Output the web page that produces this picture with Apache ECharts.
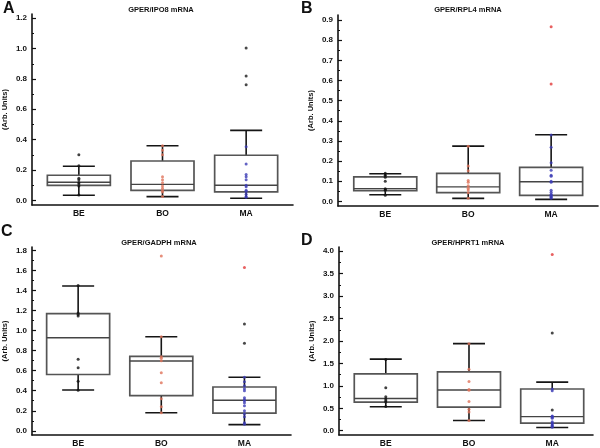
<!DOCTYPE html>
<html>
<head>
<meta charset="utf-8">
<script src="https://cdn.jsdelivr.net/npm/echarts@6/dist/echarts.min.js"></script>
<style>html,body{margin:0;padding:0;background:#fff;}#c{width:600px;height:448px;}</style>
</head>
<body>
<div id="c"></div>
<script>
// ---------- data ----------
const categories = ['BE', 'BO', 'MA'];
const titles = ['GPER/IPO8 mRNA', 'GPER/RPL4 mRNA', 'GPER/GADPH mRNA', 'GPER/HPRT1 mRNA'];
const letters = ['A', 'B', 'C', 'D'];

// stats per group: [min, Q1, median, Q3, max]
const A_stats = [[0.033, 0.099, 0.119, 0.165, 0.224], [0.024, 0.066, 0.105, 0.259, 0.360], [0.013, 0.055, 0.099, 0.297, 0.461]];
const B_stats = [[0.033, 0.053, 0.063, 0.122, 0.137], [0.015, 0.043, 0.072, 0.139, 0.274], [0.010, 0.030, 0.097, 0.169, 0.331]];
const C_stats = [[0.407, 0.562, 0.929, 1.169, 1.445], [0.180, 0.352, 0.697, 0.742, 0.939], [0.062, 0.177, 0.305, 0.437, 0.535]];
const D_stats = [[0.535, 0.637, 0.718, 1.268, 1.597], [0.227, 0.528, 0.908, 1.312, 1.941], [0.073, 0.169, 0.315, 0.930, 1.084]];

// individual points
const A_BE = [0.30, 0.228, 0.145, 0.135, 0.118, 0.108, 0.095, 0.035];
const A_BO = [0.36, 0.33, 0.30, 0.155, 0.135, 0.115, 0.095, 0.08, 0.065, 0.055, 0.025];
const A_MA = [0.353, 0.24, 0.17, 0.155, 0.135, 0.10, 0.09, 0.066, 0.058, 0.04, 0.025, 0.02];
const A_MA_dark = [1.004, 0.82, 0.762];
const A_MA_red = [];

const B_BE = [0.14, 0.13, 0.12, 0.10, 0.062, 0.058, 0.055, 0.03];
const B_BO = [0.274, 0.175, 0.152, 0.103, 0.095, 0.078, 0.065, 0.057, 0.043, 0.015];
const B_MA = [0.33, 0.268, 0.192, 0.155, 0.13, 0.125, 0.10, 0.095, 0.055, 0.045, 0.035, 0.03, 0.025, 0.02, 0.015];
const B_MA_dark = [];
const B_MA_red = [0.867, 0.582];

const C_BE = [1.45, 1.175, 1.16, 1.145, 0.715, 0.63, 0.495, 0.405];
const C_BO = [1.745, 0.94, 0.74, 0.725, 0.70, 0.58, 0.48, 0.32, 0.24, 0.18];
const C_MA = [0.535, 0.49, 0.45, 0.42, 0.40, 0.33, 0.31, 0.30, 0.28, 0.25, 0.20, 0.17, 0.14, 0.08, 0.065];
const C_MA_dark = [1.067, 0.874];
const C_MA_red = [1.63];

const D_BE = [1.59, 0.96, 0.76, 0.71, 0.67, 0.64, 0.54];
const D_BO = [1.94, 1.37, 1.10, 0.92, 0.90, 0.65, 0.48, 0.42, 0.23];
const D_MA = [0.93, 0.89, 0.33, 0.32, 0.30, 0.28, 0.20, 0.17, 0.15, 0.12, 0.10, 0.08];
const D_MA_dark = [2.18, 0.46];
const D_MA_red = [3.93];

// tick labels
const A_ticks = [0, 0.2, 0.4, 0.6, 0.8, 1.0, 1.2];
const A_minor = [0.1, 0.3, 0.5, 0.7, 0.9, 1.1];
const B_ticks = [0, 0.1, 0.2, 0.3, 0.4, 0.5, 0.6, 0.7, 0.8, 0.9];
const B_minor = [0.05, 0.15, 0.25, 0.35, 0.45, 0.55, 0.65, 0.75, 0.85];
const C_ticks = [0, 0.2, 0.4, 0.6, 0.8, 1.0, 1.2, 1.4, 1.6, 1.8];
const C_minor = [0.1, 0.3, 0.5, 0.7, 0.9, 1.1, 1.3, 1.5, 1.7];
const D_ticks = [0, 0.5, 1.0, 1.5, 2.0, 2.5, 3.0, 3.5, 4.0];
const D_minor = [0.25, 0.75, 1.25, 1.75, 2.25, 2.75, 3.25, 3.75];

// ---------- layout ----------
const panels = [
  {stats: A_stats, pts: [A_BE, A_BO, A_MA], dark: A_MA_dark, red: A_MA_red, ticks: A_ticks, minor: A_minor,
   grid: {left: 32, top: 14, width: 261, height: 191}, y: [-0.031, 1.228], x: [0.44, 3.56],
   title: [161, 10], letter: [3, 9]},
  {stats: B_stats, pts: [B_BE, B_BO, B_MA], dark: B_MA_dark, red: B_MA_red, ticks: B_ticks, minor: B_minor,
   grid: {left: 338, top: 15, width: 260, height: 191}, y: [-0.023, 0.925], x: [0.43, 3.565],
   title: [468, 10], letter: [301, 9]},
  {stats: C_stats, pts: [C_BE, C_BO, C_MA], dark: C_MA_dark, red: C_MA_red, ticks: C_ticks, minor: C_minor,
   grid: {left: 31, top: 247, width: 260, height: 190}, y: [-0.042, 1.835], x: [0.445, 3.56],
   title: [159, 243], letter: [1, 232]},
  {stats: D_stats, pts: [D_BE, D_BO, D_MA], dark: D_MA_dark, red: D_MA_red, ticks: D_ticks, minor: D_minor,
   grid: {left: 339, top: 247, width: 254, height: 190}, y: [-0.095, 4.095], x: [0.438, 3.49],
   title: [468, 243], letter: [301, 241]}
];

const groupColors = ['#111111', '#e0735a', '#3b3bb5'];
const FONT = '"Liberation Sans", Arial, sans-serif';

function renderBox(params, api) {
  const x = api.value(0);
  const pMin = api.coord([x, api.value(1)]);
  const pQ1 = api.coord([x, api.value(2)]);
  const pMed = api.coord([x, api.value(3)]);
  const pQ3 = api.coord([x, api.value(4)]);
  const pMax = api.coord([x, api.value(5)]);
  const cx = pMed[0];
  const hw = 31.5, cw = 16;
  const wStyle = {stroke: '#151515', lineWidth: 1.6};
  return {
    type: 'group',
    children: [
      {type: 'line', shape: {x1: cx, y1: pQ3[1], x2: cx, y2: pMax[1]}, style: wStyle},
      {type: 'line', shape: {x1: cx, y1: pQ1[1], x2: cx, y2: pMin[1]}, style: wStyle},
      {type: 'line', shape: {x1: cx - cw, y1: pMax[1], x2: cx + cw, y2: pMax[1]}, style: wStyle},
      {type: 'line', shape: {x1: cx - cw, y1: pMin[1], x2: cx + cw, y2: pMin[1]}, style: wStyle},
      {type: 'rect', shape: {x: cx - hw, y: pQ3[1], width: 2 * hw, height: pQ1[1] - pQ3[1]},
       style: {fill: 'none', stroke: '#555555', lineWidth: 1.7}},
      {type: 'line', shape: {x1: cx - hw, y1: pMed[1], x2: cx + hw, y2: pMed[1]},
       style: {stroke: '#444444', lineWidth: 1.4}}
    ]
  };
}

const grid = [], xAxis = [], yAxis = [], series = [], graphic = [];
panels.forEach(function (p, i) {
  grid.push(Object.assign({containLabel: false}, p.grid));
  xAxis.push({
    type: 'value', gridIndex: i, min: p.x[0], max: p.x[1],
    splitLine: {show: false},
    axisLine: {show: true, onZero: false, lineStyle: {color: '#111', width: 1.6}},
    axisTick: {show: false},
    axisLabel: {customValues: [1, 2, 3], formatter: function (v) { return categories[Math.round(v) - 1]; },
                color: '#111', fontWeight: 'bold', fontSize: 8.5, fontFamily: FONT, margin: 4}
  });
  yAxis.push({
    type: 'value', gridIndex: i, min: p.y[0], max: p.y[1], position: 'left',
    splitLine: {show: false},
    axisLine: {show: true, onZero: false, lineStyle: {color: '#111', width: 1.6}},
    axisTick: {show: true, inside: true, length: 4, customValues: p.ticks, lineStyle: {color: '#111', width: 1.2}},
    axisLabel: {customValues: p.ticks, formatter: function (v) { return v.toFixed(1); },
                color: '#111', fontWeight: 'bold', fontSize: 8, fontFamily: FONT, margin: 5},
    name: '(Arb. Units)', nameLocation: 'middle', nameRotate: 90, nameGap: 23,
    nameTextStyle: {color: '#111', fontWeight: 'bold', fontSize: 7.5, fontFamily: FONT}
  });
  yAxis.push({
    type: 'value', gridIndex: i, min: p.y[0], max: p.y[1], position: 'left',
    splitLine: {show: false}, axisLine: {show: false},
    axisTick: {show: true, inside: true, length: 2, customValues: p.minor, lineStyle: {color: '#111', width: 1}},
    axisLabel: {show: false}
  });
  const yIdx = i * 2;
  series.push({
    type: 'custom', xAxisIndex: i, yAxisIndex: yIdx, renderItem: renderBox,
    encode: {x: 0, y: [1, 2, 3, 4, 5]},
    data: p.stats.map(function (s, g) { return [g + 1].concat(s); }),
    silent: true, z: 2
  });
  p.pts.forEach(function (arr, g) {
    series.push({
      type: 'scatter', xAxisIndex: i, yAxisIndex: yIdx, symbolSize: 3, z: 5,
      itemStyle: {color: groupColors[g]},
      data: arr.map(function (v) { return [g + 1, v]; })
    });
  });
  series.push({
    type: 'scatter', xAxisIndex: i, yAxisIndex: yIdx, symbolSize: 3, z: 5,
    itemStyle: {color: '#1a1a1a'},
    data: p.dark.map(function (v) { return [3, v]; })
  });
  series.push({
    type: 'scatter', xAxisIndex: i, yAxisIndex: yIdx, symbolSize: 3, z: 5,
    itemStyle: {color: '#e23a3a'},
    data: p.red.map(function (v) { return [3, v]; })
  });
  graphic.push({
    type: 'text', x: p.title[0], y: p.title[1],
    style: {text: titles[i], font: 'bold 7.5px ' + FONT, fill: '#111', textAlign: 'center', textVerticalAlign: 'middle'}
  });
  graphic.push({
    type: 'text', x: p.letter[0], y: p.letter[1],
    style: {text: letters[i], font: 'bold 16px ' + FONT, fill: '#111', textAlign: 'left', textVerticalAlign: 'middle'}
  });
});

const chart = echarts.init(document.getElementById('c'), null, {renderer: 'canvas'});
chart.setOption({
  animation: false,
  backgroundColor: '#ffffff',
  grid: grid, xAxis: xAxis, yAxis: yAxis, series: series, graphic: graphic
});
</script>
</body>
</html>
